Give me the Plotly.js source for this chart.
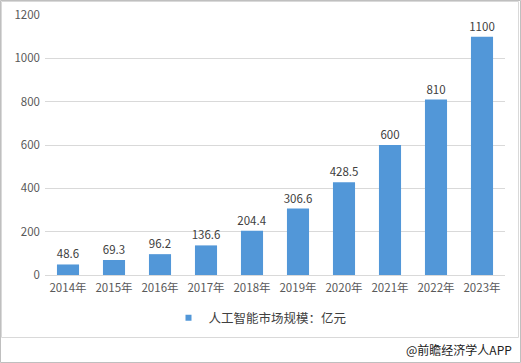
<!DOCTYPE html>
<html>
<head>
<meta charset="utf-8">
<script src="https://cdn.plot.ly/plotly-3.0.1.min.js"></script>
<style>
html,body{margin:0;padding:0;background:#fff;}
#chart{width:521px;height:363px;}
</style>
</head>
<body>
<div id="chart"></div>
<script>
const years = ['2014年','2015年','2016年','2017年','2018年','2019年','2020年','2021年','2022年','2023年'];
const marketSize = [48.6, 69.3, 96.2, 136.6, 204.4, 306.6, 428.5, 600, 810, 1100];
const valueLabels = ['48.6','69.3','96.2','136.6','204.4','306.6','428.5','600','810','1100'];
const seriesName = '人工智能市场规模：亿元';
const credit = '@前瞻经济学人APP';

const L = 45, R = 505, T = 15, B = 275, W = 521, H = 363;
const px = x => (x - L) / (R - L);
const py = y => (B - y) / (B - T);

const font = '"Microsoft YaHei","Noto Sans CJK SC","DejaVu Sans",sans-serif';
const barColor = '#5297d8';

Plotly.newPlot('chart', [{
  type: 'bar',
  x: years,
  y: marketSize,
  name: seriesName,
  showlegend: false,
  text: valueLabels,
  textposition: 'outside',
  constraintext: 'none',
  cliponaxis: false,
  textfont: {size: 11.5, color: '#404040', family: font},
  marker: {color: barColor, line: {width: 0}},
  hoverinfo: 'x+y'
}, {
  type: 'scatter',
  mode: 'markers',
  x: [null], y: [null],
  name: seriesName,
  showlegend: true,
  marker: {symbol: 'square', size: 6, color: barColor}
}], {
  width: W, height: H,
  margin: {l: L, r: W - R, t: T, b: H - B},
  paper_bgcolor: '#ffffff',
  plot_bgcolor: '#ffffff',
  bargap: 0.52,
  showlegend: true,
  legend: {
    orientation: 'h', x: px(260), xanchor: 'center', y: py(318), yanchor: 'middle',
    font: {size: 12.5, color: '#404040', family: font},
    itemwidth: 30, itemsizing: 'trace'
  },
  xaxis: {
    showgrid: false, zeroline: false, showline: true, linecolor: '#d9d9d9',
    ticks: '', tickfont: {size: 11.5, color: '#595959', family: font},
    ticklabelstandoff: 2
  },
  yaxis: {
    range: [0, 1200], dtick: 200, showgrid: true, gridcolor: '#d9d9d9',
    zeroline: false, showline: false, ticks: '',
    tickfont: {size: 11.5, color: '#595959', family: font},
    ticklabelstandoff: 4
  },
  shapes: [
    {type: 'rect', xref: 'paper', yref: 'paper', x0: px(0.5), x1: px(520.5), y0: py(0.5), y1: py(362.5),
     line: {color: '#bfbfbf', width: 1}, fillcolor: 'rgba(0,0,0,0)', layer: 'below'},
    {type: 'rect', xref: 'paper', yref: 'paper', x0: px(1.5), x1: px(518.5), y0: py(1.5), y1: py(337.5),
     line: {color: '#d9d9d9', width: 1}, fillcolor: 'rgba(0,0,0,0)', layer: 'below'}
  ],
  annotations: [
    {text: credit, xref: 'paper', yref: 'paper', x: px(514), y: py(350), xanchor: 'right', yanchor: 'middle',
     showarrow: false, font: {size: 12, color: '#222222', family: font}}
  ]
}, {displayModeBar: false, staticPlot: true});
</script>
</body>
</html>
